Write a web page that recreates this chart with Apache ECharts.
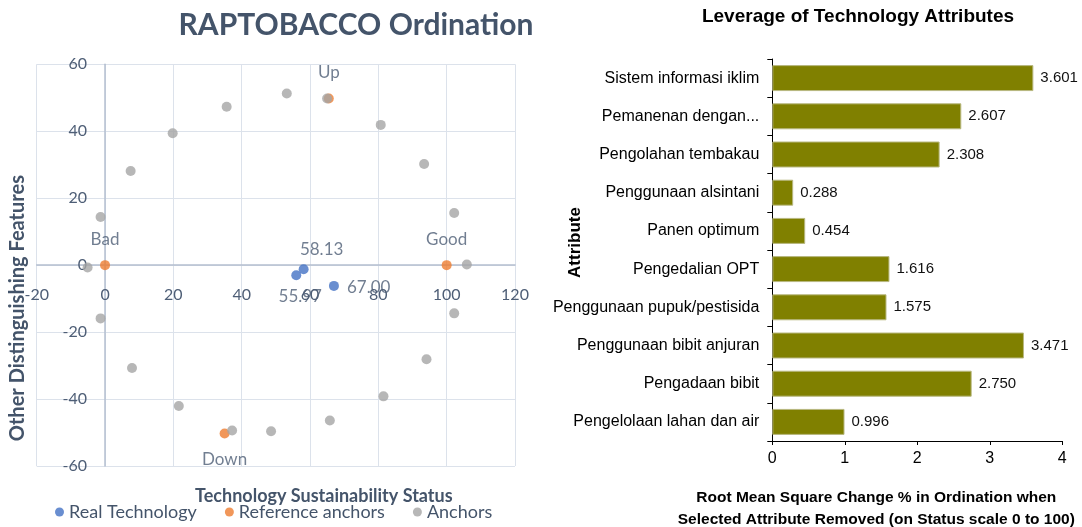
<!DOCTYPE html>
<html><head><meta charset="utf-8">
<script src="https://cdn.jsdelivr.net/npm/echarts@6/dist/echarts.min.js"></script>
<style>html,body{margin:0;padding:0;background:#fff}#c{width:1082px;height:527px}</style>
</head><body><div id="c"></div>
<script>
// ---- Left chart data (RAPTOBACCO Ordination) ----
const realX = [55.97, 58.13, 67.00];
const realY = [-3.0, -1.2, -6.2];
const refNames = ['Bad', 'Good', 'Up', 'Down'];
const refX = [0, 100, 65.5, 35.0];
const refY = [0, 0, 49.8, -50.3];
const anchorX = [-5.1, -1.3, 7.5, 19.8, 35.6, 53.2, 65.0, 80.7, 93.4, 102.2, 105.9, 102.2, 94.1, 81.5, 65.8, 48.6, 37.2, 21.6, 7.9, -1.3];
const anchorY = [-0.7, 14.4, 28.1, 39.4, 47.3, 51.3, 49.8, 41.9, 30.2, 15.6, 0.2, -14.4, -28.1, -39.2, -46.4, -49.6, -49.4, -42.1, -30.7, -15.9];
const legendNames = ['Real Technology', 'Reference anchors', 'Anchors'];

// ---- Right chart data (Leverage of Technology Attributes) ----
const attributes = ['Sistem informasi iklim', 'Pemanenan dengan...', 'Pengolahan tembakau', 'Penggunaan alsintani', 'Panen optimum', 'Pengedalian OPT', 'Penggunaan pupuk/pestisida', 'Penggunaan bibit anjuran', 'Pengadaan bibit', 'Pengelolaan lahan dan air'];
const leverage = [3.601, 2.607, 2.308, 0.288, 0.454, 1.616, 1.575, 3.471, 2.750, 0.996];

// axis ranges of the ordination plot
const ordX = {min: -20, max: 120, interval: 20};
const ordY = {min: -60, max: 60, interval: 20};

// label placement for real-technology points (style, not data)
const realLabelPos = [
  {position: 'bottom', distance: 8, offset: [4, 0]},
  {position: 'top', distance: 6, offset: [18, 0]},
  {position: 'right', distance: 8, offset: [0, 2]}
];
const refLabelPos = ['top', 'top', 'top', 'bottom'];

const slate = '#44546A';
const tickCol = '#4E5E76';
const F = 'Lato';
const A = '"Liberation Sans", Arial, sans-serif';

// left grid geometry
const G0 = {left: 36.7, top: 64.3, width: 478.3, height: 401.7};
// axes cross at zero: shift the axes from the grid edge to the zero position
const xAxisShift = -G0.height * (0 - ordY.min) / (ordY.max - ordY.min);
const yAxisShift = -G0.width * (0 - ordX.min) / (ordX.max - ordX.min);

const chart = echarts.init(document.getElementById('c'), null, {renderer: 'canvas'});
chart.setOption({
  animation: false,
  backgroundColor: '#fff',
  title: [
    {text: 'RAPTOBACCO Ordination', left: 356, top: 10, textAlign: 'center', padding: 0,
     textStyle: {fontFamily: F, fontWeight: 'bold', fontSize: 30, color: slate}},
    {text: 'Leverage of Technology Attributes', left: 858, top: 7, textAlign: 'center', padding: 0,
     textStyle: {fontFamily: A, fontWeight: 'bold', fontSize: 19, color: '#000'}}
  ],
  legend: {
    data: legendNames, left: 55, top: 503, padding: 0, icon: 'circle', itemWidth: 9, itemHeight: 9, itemGap: 28,
    textStyle: {fontFamily: F, fontSize: 18, color: slate}
  },
  grid: [
    Object.assign({containLabel: false, outerBoundsMode: 'none'}, G0),
    {left: 772.3, top: 59, width: 290, height: 382, containLabel: false, outerBoundsMode: 'none'}
  ],
  xAxis: [
    {gridIndex: 0, type: 'value', min: ordX.min, max: ordX.max, interval: ordX.interval,
     position: 'bottom', offset: xAxisShift,
     axisLine: {show: true, onZero: false, lineStyle: {color: '#B4BFD0', width: 1.5}},
     axisTick: {show: false},
     splitLine: {show: true, lineStyle: {color: '#DCE2EB', width: 1}},
     axisLabel: {margin: 22, fontFamily: F, fontSize: 16, color: tickCol},
     name: 'Technology Sustainability Status', nameLocation: 'middle', nameGap: 222, nameMoveOverlap: false,
     nameTextStyle: {fontFamily: F, fontWeight: 'bold', fontSize: 18, color: slate, padding: [0, 0, 0, 96]}},
    {gridIndex: 1, type: 'value', min: 0, max: 4, interval: 1,
     axisLine: {show: true, lineStyle: {color: '#000', width: 1}},
     axisTick: {show: true, length: 4, lineStyle: {color: '#000'}},
     splitLine: {show: false},
     axisLabel: {margin: 10, fontFamily: A, fontSize: 16, color: '#000'},
     name: 'Root Mean Square Change % in Ordination when\nSelected Attribute Removed (on Status scale 0 to 100)',
     nameLocation: 'middle', nameGap: 46, nameMoveOverlap: false,
     nameTextStyle: {fontFamily: A, fontWeight: 'bold', fontSize: 15.5, lineHeight: 22, color: '#000', padding: [0, 82, 0, 0]}}
  ],
  yAxis: [
    {gridIndex: 0, type: 'value', min: ordY.min, max: ordY.max, interval: ordY.interval,
     position: 'left', offset: yAxisShift,
     axisLine: {show: true, onZero: false, lineStyle: {color: '#B4BFD0', width: 1.5}},
     axisTick: {show: false},
     splitLine: {show: true, lineStyle: {color: '#DCE2EB', width: 1}},
     axisLabel: {margin: 18, fontFamily: F, fontSize: 16, color: tickCol},
     name: 'Other Distinguishing Features', nameLocation: 'middle', nameGap: 77, nameMoveOverlap: false,
     nameTextStyle: {fontFamily: F, fontWeight: 'bold', fontSize: 20, color: slate, padding: [0, 86, 0, 0]}},
    {gridIndex: 1, type: 'category', data: attributes, inverse: true,
     axisLine: {show: true, lineStyle: {color: '#000', width: 1}},
     axisTick: {show: true, length: 5, lineStyle: {color: '#000'}},
     axisLabel: {margin: 13, fontFamily: A, fontSize: 16, color: '#000'},
     name: 'Attribute', nameLocation: 'middle', nameGap: 188, nameMoveOverlap: false,
     nameTextStyle: {fontFamily: A, fontWeight: 'bold', fontSize: 17, color: '#000', padding: [0, 0, 0, 15]}}
  ],
  series: [
    {name: legendNames[0], type: 'scatter', xAxisIndex: 0, yAxisIndex: 0, symbolSize: 10,
     itemStyle: {color: '#4472C4'},
     data: realX.map((x, i) => ({value: [x, realY[i]],
       label: Object.assign({show: true, formatter: p => p.value[0].toFixed(2),
         fontFamily: F, fontSize: 17, color: tickCol}, realLabelPos[i])}))},
    {name: legendNames[1], type: 'scatter', xAxisIndex: 0, yAxisIndex: 0, symbolSize: 10,
     itemStyle: {color: '#ED7D31'},
     data: refX.map((x, i) => ({name: refNames[i], value: [x, refY[i]],
       label: {show: true, formatter: '{b}', position: refLabelPos[i], distance: 12,
         fontFamily: F, fontSize: 17, color: tickCol}}))},
    {name: legendNames[2], type: 'scatter', xAxisIndex: 0, yAxisIndex: 0, symbolSize: 10,
     itemStyle: {color: '#A5A5A5'},
     data: anchorX.map((x, i) => [x, anchorY[i]])},
    {name: 'Leverage', type: 'bar', xAxisIndex: 1, yAxisIndex: 1, barCategoryGap: '32%',
     itemStyle: {color: '#808000', borderColor: '#B8B880', borderWidth: 1},
     label: {show: true, position: 'right', distance: 7, formatter: p => p.value.toFixed(3),
       fontFamily: A, fontSize: 15, color: '#111'},
     data: leverage}
  ]
});
</script>
</body></html>
